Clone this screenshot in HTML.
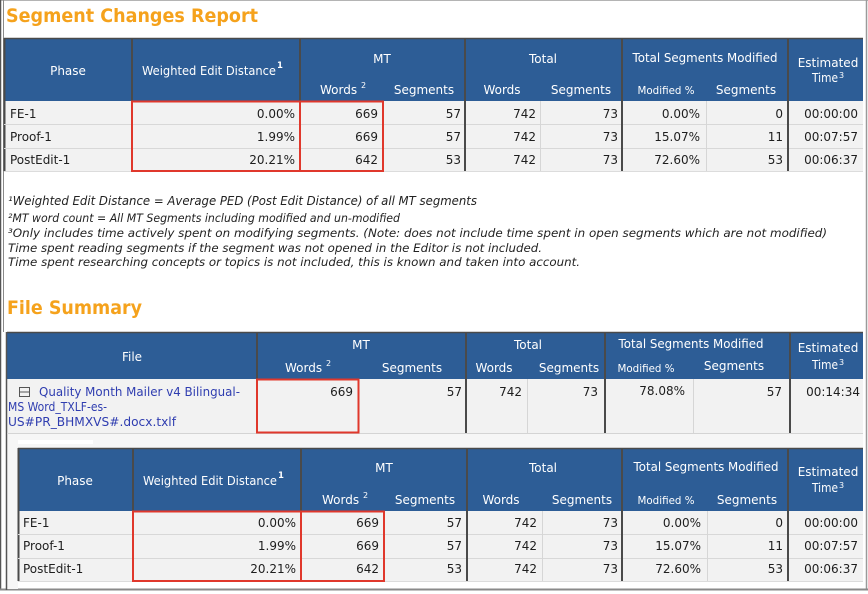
<!DOCTYPE html>
<html><head><meta charset="utf-8"><style>
html,body{margin:0;padding:0;background:#fff;}
svg{display:block;}
</style></head><body>
<svg width="868" height="594" viewBox="0 0 868 594" xmlns="http://www.w3.org/2000/svg" font-family="'DejaVu Sans','Liberation Sans',sans-serif" font-size="12">
<rect x="0" y="0" width="868" height="594" fill="#fff"/>
<!-- page frame -->
<line x1="0" y1="0.5" x2="868" y2="0.5" stroke="#b4b4b4"/>
<line x1="0.5" y1="0" x2="0.5" y2="590" stroke="#555" stroke-width="1.5"/>
<line x1="3.5" y1="0" x2="3.5" y2="332" stroke="#8a8a8a"/>
<line x1="866.5" y1="0" x2="866.5" y2="590" stroke="#9a9a9a" stroke-width="1.5"/>
<line x1="0" y1="589.5" x2="868" y2="589.5" stroke="#8a8a8a" stroke-width="2"/>

<!-- Title -->
<text x="6" y="22" font-size="19" font-weight="bold" fill="#f5a21c" textLength="252" lengthAdjust="spacingAndGlyphs">Segment Changes Report</text>

<!-- ===== Table 1 ===== -->
<rect x="4" y="38" width="859" height="63" fill="#2d5d96"/>
<rect x="4" y="101" width="859" height="70" fill="#f2f2f2"/>
<line x1="4" y1="38.5" x2="863" y2="38.5" stroke="#4a4a4a" stroke-width="1.5"/>
<line x1="4.5" y1="38" x2="4.5" y2="171" stroke="#4a4a4a" stroke-width="2"/>
<line x1="4" y1="124.5" x2="863" y2="124.5" stroke="#d8d8d8"/>
<line x1="4" y1="148.5" x2="863" y2="148.5" stroke="#d8d8d8"/>
<line x1="4" y1="171.5" x2="863" y2="171.5" stroke="#dcdcdc"/>
<g stroke="#4a4a4a" stroke-width="2">
<line x1="132" y1="38" x2="132" y2="171"/>
<line x1="300" y1="38" x2="300" y2="171"/>
<line x1="465" y1="38" x2="465" y2="171"/>
<line x1="622" y1="38" x2="622" y2="171"/>
<line x1="788" y1="38" x2="788" y2="171"/>
</g>
<g stroke="#d6d6d6">
<line x1="540.5" y1="101" x2="540.5" y2="171"/>
<line x1="706.5" y1="101" x2="706.5" y2="171"/>
</g>
<rect x="132" y="101.5" width="168" height="69.5" fill="none" stroke="#e0382c" stroke-width="2"/>
<rect x="300" y="101.5" width="83" height="69.5" fill="none" stroke="#e0382c" stroke-width="2"/>
<g fill="#fff">
<text x="68" y="75" text-anchor="middle">Phase</text>
<text x="142" y="75" textLength="134" lengthAdjust="spacingAndGlyphs">Weighted Edit Distance</text>
<text x="277" y="68" font-size="8.5" font-weight="bold">1</text>
<text x="382" y="63" text-anchor="middle">MT</text>
<text x="320" y="94">Words</text>
<text x="361" y="88" font-size="8">2</text>
<text x="424" y="94" text-anchor="middle">Segments</text>
<text x="543" y="63" text-anchor="middle">Total</text>
<text x="502" y="94" text-anchor="middle">Words</text>
<text x="581" y="94" text-anchor="middle">Segments</text>
<text x="705" y="62" text-anchor="middle" textLength="145" lengthAdjust="spacingAndGlyphs">Total Segments Modified</text>
<text x="666" y="94" text-anchor="middle" font-size="10.5" textLength="57" lengthAdjust="spacingAndGlyphs">Modified %</text>
<text x="746" y="94" text-anchor="middle">Segments</text>
<text x="828" y="67" text-anchor="middle">Estimated</text>
<text x="812" y="82" textLength="26" lengthAdjust="spacingAndGlyphs">Time</text>
<text x="839" y="78" font-size="8">3</text>
</g>
<g fill="#1e1e1e">
<text x="10" y="118">FE-1</text>
<text x="10" y="141">Proof-1</text>
<text x="10" y="164">PostEdit-1</text>
<g text-anchor="end">
<text x="295" y="118">0.00%</text><text x="295" y="141">1.99%</text><text x="295" y="164">20.21%</text>
<text x="378" y="118">669</text><text x="378" y="141">669</text><text x="378" y="164">642</text>
<text x="461" y="118">57</text><text x="461" y="141">57</text><text x="461" y="164">53</text>
<text x="536" y="118">742</text><text x="536" y="141">742</text><text x="536" y="164">742</text>
<text x="618" y="118">73</text><text x="618" y="141">73</text><text x="618" y="164">73</text>
<text x="700" y="118">0.00%</text><text x="700" y="141">15.07%</text><text x="700" y="164">72.60%</text>
<text x="783" y="118">0</text><text x="783" y="141">11</text><text x="783" y="164">53</text>
<text x="858" y="118">00:00:00</text><text x="858" y="141">00:07:57</text><text x="858" y="164">00:06:37</text>
</g>
</g>

<!-- Footnotes -->
<g fill="#222" font-style="italic">
<text x="8" y="205" font-size="12" textLength="469" lengthAdjust="spacingAndGlyphs">¹Weighted Edit Distance = Average PED (Post Edit Distance) of all MT segments</text>
<text x="8" y="222" font-size="11.5" textLength="392" lengthAdjust="spacingAndGlyphs">²MT word count = All MT Segments including modified and un-modified</text>
<text x="8" y="237" font-size="11.5" textLength="819" lengthAdjust="spacingAndGlyphs">³Only includes time actively spent on modifying segments. (Note: does not include time spent in open segments which are not modified)</text>
<text x="8" y="252" font-size="11.5" textLength="534" lengthAdjust="spacingAndGlyphs">Time spent reading segments if the segment was not opened in the Editor is not included.</text>
<text x="8" y="266" font-size="11.5" textLength="572" lengthAdjust="spacingAndGlyphs">Time spent researching concepts or topics is not included, this is known and taken into account.</text>
</g>

<!-- File Summary title -->
<text x="7" y="314" font-size="19" font-weight="bold" fill="#f5a21c" textLength="135" lengthAdjust="spacingAndGlyphs">File Summary</text>

<!-- ===== Table 2 ===== -->
<rect x="7" y="332" width="856" height="47" fill="#2d5d96"/>
<rect x="7" y="379" width="856" height="54" fill="#f2f2f2"/>
<rect x="7" y="433" width="856" height="15" fill="#f6f6f6"/>
<rect x="18" y="440" width="75" height="4" fill="#fff"/>
<rect x="7" y="448" width="11" height="141" fill="#f6f6f6"/>
<line x1="7" y1="332.5" x2="863" y2="332.5" stroke="#4a4a4a" stroke-width="1.5"/>
<line x1="6.5" y1="332" x2="6.5" y2="590" stroke="#555" stroke-width="1.5"/>
<line x1="7" y1="433.5" x2="863" y2="433.5" stroke="#d4d4d4"/>
<g stroke="#4a4a4a" stroke-width="2">
<line x1="257" y1="332" x2="257" y2="433"/>
<line x1="466" y1="332" x2="466" y2="433"/>
<line x1="605" y1="332" x2="605" y2="433"/>
<line x1="790" y1="332" x2="790" y2="433"/>
</g>
<g stroke="#d6d6d6">
<line x1="527.5" y1="379" x2="527.5" y2="433"/>
<line x1="693.5" y1="379" x2="693.5" y2="433"/>
</g>
<rect x="257" y="379.5" width="101.5" height="53" fill="none" stroke="#e0382c" stroke-width="2"/>
<g fill="#fff">
<text x="132" y="361" text-anchor="middle">File</text>
<text x="361" y="349" text-anchor="middle">MT</text>
<text x="285" y="372">Words</text>
<text x="326" y="366" font-size="8">2</text>
<text x="412" y="372" text-anchor="middle">Segments</text>
<text x="528" y="349" text-anchor="middle">Total</text>
<text x="494" y="372" text-anchor="middle">Words</text>
<text x="569" y="372" text-anchor="middle">Segments</text>
<text x="691" y="348" text-anchor="middle" textLength="145" lengthAdjust="spacingAndGlyphs">Total Segments Modified</text>
<text x="646" y="372" text-anchor="middle" font-size="10.5" textLength="57" lengthAdjust="spacingAndGlyphs">Modified %</text>
<text x="734" y="370" text-anchor="middle">Segments</text>
<text x="828" y="352" text-anchor="middle">Estimated</text>
<text x="812" y="369" textLength="26" lengthAdjust="spacingAndGlyphs">Time</text>
<text x="839" y="365" font-size="8">3</text>
</g>
<!-- file link -->
<rect x="19.5" y="387.5" width="10" height="9" fill="none" stroke="#555"/>
<line x1="19.5" y1="392" x2="29.5" y2="392" stroke="#555"/>
<g fill="#2f3db0">
<text x="39" y="396" textLength="201" lengthAdjust="spacingAndGlyphs">Quality Month Mailer v4 Bilingual-</text>
<text x="8" y="411" textLength="99" lengthAdjust="spacingAndGlyphs">MS Word_TXLF-es-</text>
<text x="8" y="426" textLength="168" lengthAdjust="spacingAndGlyphs">US#PR_BHMXVS#.docx.txlf</text>
</g>
<g fill="#1e1e1e" text-anchor="end">
<text x="353" y="396">669</text>
<text x="462" y="396">57</text>
<text x="522" y="396">742</text>
<text x="598" y="396">73</text>
<text x="685" y="395">78.08%</text>
<text x="782" y="396">57</text>
<text x="860" y="396">00:14:34</text>
</g>

<!-- ===== Table 3 ===== -->
<rect x="18" y="448" width="845" height="63" fill="#2d5d96"/>
<rect x="18" y="511" width="845" height="70" fill="#f2f2f2"/>
<line x1="18" y1="448.5" x2="863" y2="448.5" stroke="#4a4a4a" stroke-width="1.5"/>
<line x1="18.5" y1="448" x2="18.5" y2="581" stroke="#4a4a4a" stroke-width="2"/>
<line x1="18" y1="534.5" x2="863" y2="534.5" stroke="#d8d8d8"/>
<line x1="18" y1="558.5" x2="863" y2="558.5" stroke="#d8d8d8"/>
<line x1="18" y1="581.5" x2="863" y2="581.5" stroke="#dcdcdc"/>
<g stroke="#4a4a4a" stroke-width="2">
<line x1="133" y1="448" x2="133" y2="581"/>
<line x1="301" y1="448" x2="301" y2="581"/>
<line x1="467" y1="448" x2="467" y2="581"/>
<line x1="622" y1="448" x2="622" y2="581"/>
<line x1="788" y1="448" x2="788" y2="581"/>
</g>
<g stroke="#d6d6d6">
<line x1="542.5" y1="511" x2="542.5" y2="581"/>
<line x1="707.5" y1="511" x2="707.5" y2="581"/>
</g>
<rect x="133" y="511.5" width="168" height="69.5" fill="none" stroke="#e0382c" stroke-width="2"/>
<rect x="301" y="511.5" width="83" height="69.5" fill="none" stroke="#e0382c" stroke-width="2"/>
<g fill="#fff">
<text x="75" y="485" text-anchor="middle">Phase</text>
<text x="143" y="485" textLength="134" lengthAdjust="spacingAndGlyphs">Weighted Edit Distance</text>
<text x="278" y="478" font-size="8.5" font-weight="bold">1</text>
<text x="384" y="472" text-anchor="middle">MT</text>
<text x="322" y="504">Words</text>
<text x="363" y="498" font-size="8">2</text>
<text x="425" y="504" text-anchor="middle">Segments</text>
<text x="543" y="472" text-anchor="middle">Total</text>
<text x="501" y="504" text-anchor="middle">Words</text>
<text x="582" y="504" text-anchor="middle">Segments</text>
<text x="706" y="471" text-anchor="middle" textLength="145" lengthAdjust="spacingAndGlyphs">Total Segments Modified</text>
<text x="666" y="504" text-anchor="middle" font-size="10.5" textLength="57" lengthAdjust="spacingAndGlyphs">Modified %</text>
<text x="747" y="504" text-anchor="middle">Segments</text>
<text x="828" y="476" text-anchor="middle">Estimated</text>
<text x="812" y="492" textLength="26" lengthAdjust="spacingAndGlyphs">Time</text>
<text x="839" y="488" font-size="8">3</text>
</g>
<g fill="#1e1e1e">
<text x="23" y="527">FE-1</text>
<text x="23" y="550">Proof-1</text>
<text x="23" y="573">PostEdit-1</text>
<g text-anchor="end">
<text x="296" y="527">0.00%</text><text x="296" y="550">1.99%</text><text x="296" y="573">20.21%</text>
<text x="379" y="527">669</text><text x="379" y="550">669</text><text x="379" y="573">642</text>
<text x="462" y="527">57</text><text x="462" y="550">57</text><text x="462" y="573">53</text>
<text x="537" y="527">742</text><text x="537" y="550">742</text><text x="537" y="573">742</text>
<text x="618" y="527">73</text><text x="618" y="550">73</text><text x="618" y="573">73</text>
<text x="701" y="527">0.00%</text><text x="701" y="550">15.07%</text><text x="701" y="573">72.60%</text>
<text x="783" y="527">0</text><text x="783" y="550">11</text><text x="783" y="573">53</text>
<text x="858" y="527">00:00:00</text><text x="858" y="550">00:07:57</text><text x="858" y="573">00:06:37</text>
</g>
</g>
</svg>
</body></html>
